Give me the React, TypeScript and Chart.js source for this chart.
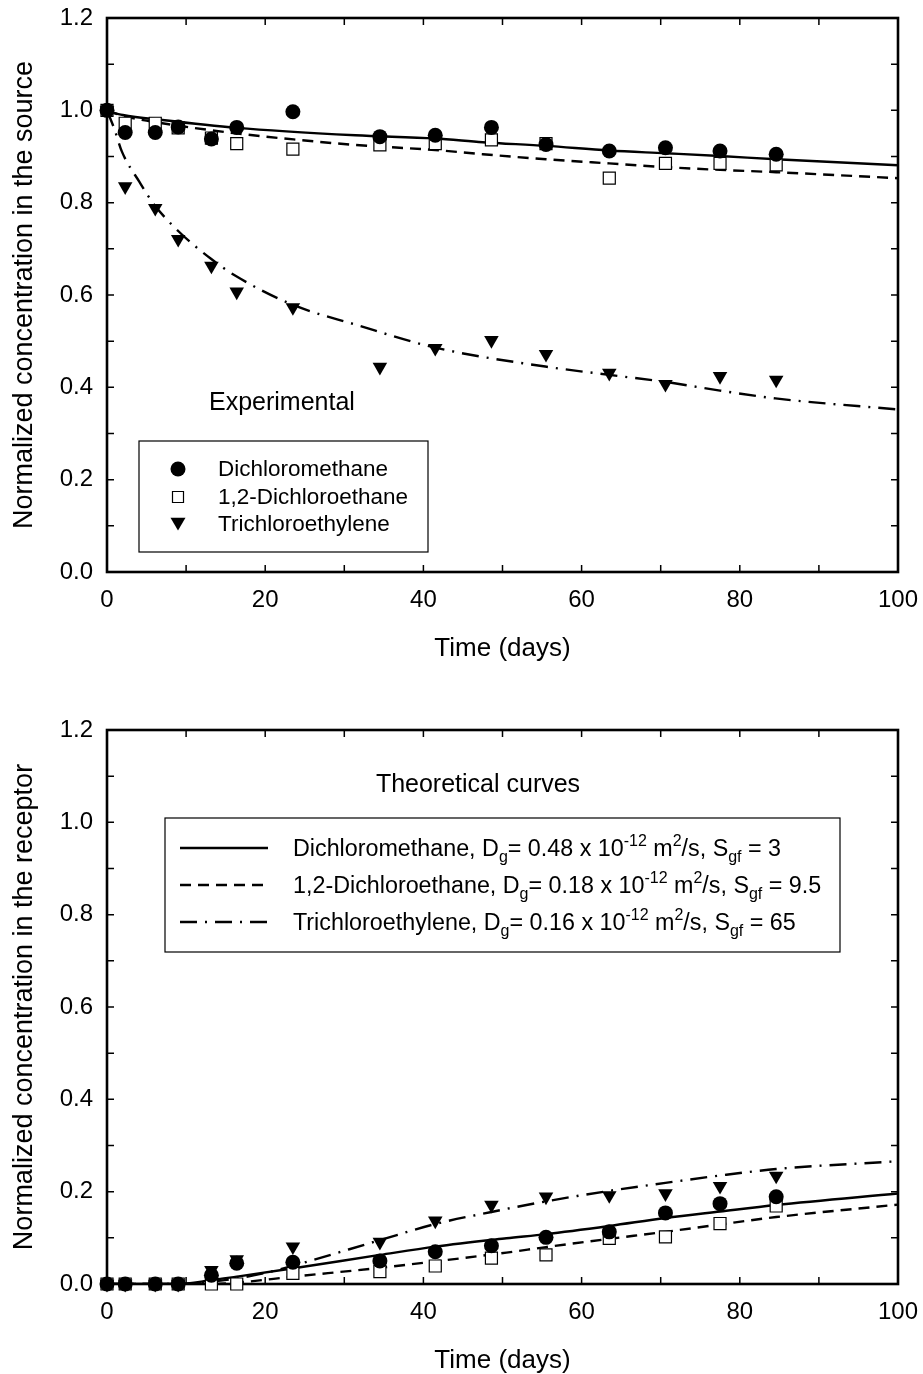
import React, { useEffect, useRef } from "react";
import { Chart, registerables } from "chart.js";

Chart.register(...registerables);

const FONT = "'Liberation Sans', Arial, Helvetica, sans-serif";

// ---- axis ticks ----
const xTickValues = [0, 20, 40, 60, 80, 100];
const xMinorTickValues = [10, 30, 50, 70, 90];
const yTickValues = [0, 0.2, 0.4, 0.6, 0.8, 1.0, 1.2];
const yMinorTickValues = [0.1, 0.3, 0.5, 0.7, 0.9, 1.1];

// ---- names ----
const seriesNames = ["Dichloromethane", "1,2-Dichloroethane", "Trichloroethylene"];
const xTitle = "Time (days)";
const sourceYTitle = "Normalized concentration in the source";
const receptorYTitle = "Normalized concentration in the receptor";
const sourceNote = "Experimental";
const receptorNote = "Theoretical curves";

// ---- sampling days (experimental) ----
const sampleDays = [0, 2.3, 6.1, 9.0, 13.2, 16.4, 23.5, 34.5, 41.5, 48.6, 55.5, 63.5, 70.6, 77.5, 84.6];

// ---- source (top panel) experimental ----
const sourceDCM = [1.0, 0.952, 0.952, 0.964, 0.938, 0.963, 0.997, 0.943, 0.946, 0.963, 0.926, 0.912, 0.919, 0.912, 0.905];
const sourceDCE = [1.0, 0.972, 0.972, 0.962, 0.940, 0.928, 0.916, 0.925, 0.928, 0.936, 0.928, 0.853, 0.885, 0.885, 0.882];
const sourceTCE = [1.0, 0.835, 0.788, 0.721, 0.663, 0.607, 0.573, 0.444, 0.485, 0.502, 0.472, 0.431, 0.407, 0.424, 0.416];

// ---- source theoretical curves ----
const sourceFitDCMDays = [0, 2, 7, 16.4, 31.4, 41.5, 47.5, 55.5, 63.5, 70.6, 77.5, 84.6, 100];
const sourceFitDCM = [0.998, 0.99, 0.979, 0.962, 0.946, 0.939, 0.931, 0.923, 0.913, 0.907, 0.901, 0.894, 0.881];
const sourceFitDCEDays = [0, 2, 7, 16.4, 23.6, 31.4, 41.5, 47.5, 55.5, 63.5, 70.6, 77.5, 84.6, 100];
const sourceFitDCE = [1.0, 0.988, 0.972, 0.95, 0.937, 0.925, 0.914, 0.905, 0.894, 0.885, 0.877, 0.871, 0.866, 0.853];
const sourceFitTCEDays = [0, 0.9, 1.9, 4.1, 6.0, 9.1, 13.1, 16.4, 23.6, 31.4, 41.5, 55.4, 63.5, 70.5, 77.5, 84.5, 100];
const sourceFitTCE = [1.0, 0.961, 0.91, 0.845, 0.795, 0.737, 0.679, 0.64, 0.578, 0.536, 0.486, 0.445, 0.427, 0.412, 0.393, 0.376, 0.352];

// ---- receptor (bottom panel) experimental ----
const receptorDCM = [0, 0, 0, 0, 0.019, 0.045, 0.047, 0.05, 0.07, 0.083, 0.101, 0.113, 0.154, 0.174, 0.189];
const receptorDCE = [0, 0, 0, 0, 0.0, 0.0, 0.023, 0.027, 0.039, 0.056, 0.063, 0.099, 0.102, 0.131, 0.169];
const receptorTCE = [0, 0, 0, 0, 0.03, 0.053, 0.081, 0.091, 0.137, 0.171, 0.189, 0.192, 0.196, 0.212, 0.234];

// ---- receptor theoretical curves ----
const receptorFitDCMDays = [0, 9, 13.1, 16.4, 23.6, 34.5, 41.5, 50.5, 55.5, 63.6, 70.6, 77.5, 84.6, 100];
const receptorFitDCM = [0, 0, 0.008, 0.016, 0.034, 0.063, 0.081, 0.099, 0.108, 0.126, 0.143, 0.157, 0.171, 0.196];
const receptorFitDCEDays = [0, 13.1, 16.4, 23.6, 34.5, 41.5, 50.5, 55.5, 63.6, 70.6, 77.5, 84.6, 100];
const receptorFitDCE = [0, 0, 0.003, 0.016, 0.035, 0.049, 0.068, 0.08, 0.098, 0.113, 0.129, 0.145, 0.172];
const receptorFitTCEDays = [0, 9, 13.1, 16.4, 20, 23.6, 34.5, 41.5, 48.6, 55.5, 63.6, 70.6, 77.5, 84.6, 100];
const receptorFitTCE = [0, 0, 0.005, 0.012, 0.024, 0.04, 0.095, 0.13, 0.156, 0.179, 0.202, 0.219, 0.235, 0.249, 0.266];

// ---- bottom legend rich text: [text, kind] ----
type Seg = [string, "n" | "sub" | "sup"];
const receptorLegendRows: Seg[][] = [
  [["Dichloromethane, D", "n"], ["g", "sub"], ["= 0.48 x 10", "n"], ["-12", "sup"], [" m", "n"], ["2", "sup"], ["/s, S", "n"], ["gf", "sub"], [" = 3", "n"]],
  [["1,2-Dichloroethane, D", "n"], ["g", "sub"], ["= 0.18 x 10", "n"], ["-12", "sup"], [" m", "n"], ["2", "sup"], ["/s, S", "n"], ["gf", "sub"], [" = 9.5", "n"]],
  [["Trichloroethylene, D", "n"], ["g", "sub"], ["= 0.16 x 10", "n"], ["-12", "sup"], [" m", "n"], ["2", "sup"], ["/s, S", "n"], ["gf", "sub"], [" = 65", "n"]],
];

// ---- styles ----
const lineDashes: number[][] = [[], [11, 7], [17, 8, 2, 8]];
const markerKinds = ["circle", "rect", "triangle"] as const;

const W = 923;
const H = 712;

const pts = (xs: number[], ys: number[]) => xs.map((x, i) => ({ x, y: ys[i] }));

function drawMarker(ctx: CanvasRenderingContext2D, kind: string, x: number, y: number, r: number) {
  ctx.save();
  ctx.beginPath();
  if (kind === "circle") {
    ctx.arc(x, y, r, 0, Math.PI * 2);
    ctx.fillStyle = "#000";
    ctx.fill();
  } else if (kind === "rect") {
    ctx.rect(x - r, y - r, 2 * r, 2 * r);
    ctx.fillStyle = "#fff";
    ctx.fill();
    ctx.lineWidth = 1.2;
    ctx.strokeStyle = "#000";
    ctx.stroke();
  } else {
    ctx.moveTo(x - r, y - r * 0.85);
    ctx.lineTo(x + r, y - r * 0.85);
    ctx.lineTo(x, y + r * 0.85);
    ctx.closePath();
    ctx.fillStyle = "#000";
    ctx.fill();
  }
  ctx.restore();
}

const frameTicksPlugin = {
  id: "frameTicks",
  beforeDatasetsDraw(chart: any) {
    const { ctx, chartArea: a, scales } = chart;
    const xs = scales.x;
    const ys = scales.y;
    const L = 7;
    ctx.save();
    ctx.strokeStyle = "#000";
    ctx.lineWidth = 1.5;
    ctx.beginPath();
    for (const v of [...xTickValues, ...xMinorTickValues]) {
      const px = xs.getPixelForValue(v);
      ctx.moveTo(px, a.bottom);
      ctx.lineTo(px, a.bottom - L);
      ctx.moveTo(px, a.top);
      ctx.lineTo(px, a.top + L);
    }
    for (const v of [...yTickValues, ...yMinorTickValues]) {
      const py = ys.getPixelForValue(v);
      ctx.moveTo(a.left, py);
      ctx.lineTo(a.left + L, py);
      ctx.moveTo(a.right, py);
      ctx.lineTo(a.right - L, py);
    }
    ctx.stroke();
    ctx.lineWidth = 2.6;
    ctx.strokeRect(a.left, a.top, a.right - a.left, a.bottom - a.top);
    ctx.restore();
  },
};

const sourceAnnotPlugin = {
  id: "sourceAnnot",
  afterDraw(chart: any) {
    const ctx: CanvasRenderingContext2D = chart.ctx;
    ctx.save();
    ctx.fillStyle = "#000";
    ctx.textBaseline = "middle";
    ctx.textAlign = "left";
    ctx.font = `25px ${FONT}`;
    ctx.fillText(sourceNote, 209, 403);
    // legend box
    ctx.lineWidth = 1.2;
    ctx.strokeStyle = "#000";
    ctx.strokeRect(139, 441, 289, 111);
    const rows = [469, 497, 524];
    const sizes = [7.5, 5.5, 7.5];
    ctx.font = `22.5px ${FONT}`;
    seriesNames.forEach((name, i) => {
      drawMarker(ctx, markerKinds[i], 178, rows[i], sizes[i]);
      ctx.fillStyle = "#000";
      ctx.fillText(name, 218, rows[i] + 1);
    });
    ctx.restore();
  },
};

const receptorAnnotPlugin = {
  id: "receptorAnnot",
  afterDraw(chart: any) {
    const ctx: CanvasRenderingContext2D = chart.ctx;
    ctx.save();
    ctx.fillStyle = "#000";
    ctx.textAlign = "center";
    ctx.textBaseline = "middle";
    ctx.font = `25px ${FONT}`;
    ctx.fillText(receptorNote, 478, 73);
    ctx.lineWidth = 1.2;
    ctx.strokeStyle = "#000";
    ctx.strokeRect(165, 106, 675, 134);
    const rows = [136, 173, 210];
    ctx.textAlign = "left";
    ctx.textBaseline = "alphabetic";
    receptorLegendRows.forEach((segs, i) => {
      const y = rows[i];
      ctx.save();
      ctx.lineWidth = 2.4;
      ctx.setLineDash(lineDashes[i]);
      ctx.beginPath();
      ctx.moveTo(180, y);
      ctx.lineTo(268, y);
      ctx.stroke();
      ctx.restore();
      let x = 293;
      const base = y + 8;
      for (const [t, k] of segs) {
        if (k === "n") {
          ctx.font = `23.3px ${FONT}`;
          ctx.fillText(t, x, base);
        } else if (k === "sub") {
          ctx.font = `16px ${FONT}`;
          ctx.fillText(t, x, base + 6);
        } else {
          ctx.font = `16px ${FONT}`;
          ctx.fillText(t, x, base - 10);
        }
        x += ctx.measureText(t).width;
      }
    });
    ctx.restore();
  },
};

function markerDataset(label: string, data: { x: number; y: number }[], kind: string) {
  const base: any = {
    label,
    data,
    showLine: false,
    clip: false,
    borderColor: "#000",
    pointBorderColor: "#000",
  };
  if (kind === "circle") {
    return { ...base, pointStyle: "circle", pointRadius: 7.5, pointBackgroundColor: "#000", pointBorderWidth: 0 };
  }
  if (kind === "rect") {
    return { ...base, pointStyle: "rect", pointRadius: 8.5, pointBackgroundColor: "#fff", pointBorderWidth: 1.2 };
  }
  return { ...base, pointStyle: "triangle", rotation: 180, pointRotation: 180, pointRadius: 8.4, pointBackgroundColor: "#000", pointBorderWidth: 0 };
}

function curveDataset(label: string, data: { x: number; y: number }[], dash: number[]) {
  return {
    label,
    data,
    showLine: true,
    pointRadius: 0,
    borderColor: "#000",
    borderWidth: 2.4,
    borderDash: dash,
    cubicInterpolationMode: "monotone",
    fill: false,
  };
}

function buildConfig(yTitle: string, exp: number[][], fits: { x: number; y: number }[][], annot: any): any {
  return {
    type: "scatter",
    data: {
      datasets: [
        markerDataset(seriesNames[0], pts(sampleDays, exp[0]), "circle"),
        markerDataset(seriesNames[1], pts(sampleDays, exp[1]), "rect"),
        markerDataset(seriesNames[2], pts(sampleDays, exp[2]), "triangle"),
        curveDataset(seriesNames[0] + " fit", fits[0], lineDashes[0]),
        curveDataset(seriesNames[1] + " fit", fits[1], lineDashes[1]),
        curveDataset(seriesNames[2] + " fit", fits[2], lineDashes[2]),
      ],
    },
    options: {
      responsive: false,
      animation: false,
      devicePixelRatio: 1,
      layout: { padding: { left: 9, top: 18, right: 25, bottom: 48 } },
      plugins: { legend: { display: false }, tooltip: { enabled: false } },
      scales: {
        x: {
          type: "linear",
          min: 0,
          max: 100,
          grid: { display: false, drawTicks: false },
          border: { display: false },
          ticks: {
            stepSize: 20,
            autoSkip: false,
            maxRotation: 0,
            padding: 14,
            color: "#000",
            font: { size: 24, family: FONT },
            callback: (v: any) => String(v),
          },
          title: { display: true, text: xTitle, color: "#000", padding: 0, font: { size: 26, family: FONT, lineHeight: 1.2 } },
          afterFit: (s: any) => {
            s.height = H - 48 - 572;
            s.paddingLeft = 0;
            s.paddingRight = 0;
            s.paddingTop = 0;
            s.paddingBottom = 0;
          },
        },
        y: {
          type: "linear",
          min: 0,
          max: 1.2,
          grid: { display: false, drawTicks: false },
          border: { display: false },
          ticks: {
            stepSize: 0.2,
            padding: 14,
            color: "#000",
            font: { size: 24, family: FONT },
            callback: (v: any) => Number(v).toFixed(1),
          },
          title: { display: true, text: yTitle, color: "#000", padding: 0, font: { size: 27, family: FONT, lineHeight: 1.15 } },
          afterFit: (s: any) => {
            s.width = 107 - 9;
            s.paddingLeft = 0;
            s.paddingRight = 0;
            s.paddingTop = 0;
            s.paddingBottom = 0;
          },
        },
      },
    },
    plugins: [frameTicksPlugin, annot],
  };
}

function ChartCanvas({ make, top }: { make: () => any; top: number }) {
  const ref = useRef<HTMLCanvasElement>(null);
  useEffect(() => {
    const chart = new Chart(ref.current as HTMLCanvasElement, make());
    return () => chart.destroy();
  }, []);
  return (
    <canvas
      ref={ref}
      width={W}
      height={H}
      style={{ position: "absolute", left: 0, top, width: W, height: H, display: "block" }}
    />
  );
}

export default function App() {
  const makeTop = () =>
    buildConfig(
      sourceYTitle,
      [sourceDCM, sourceDCE, sourceTCE],
      [pts(sourceFitDCMDays, sourceFitDCM), pts(sourceFitDCEDays, sourceFitDCE), pts(sourceFitTCEDays, sourceFitTCE)],
      sourceAnnotPlugin
    );
  const makeBottom = () =>
    buildConfig(
      receptorYTitle,
      [receptorDCM, receptorDCE, receptorTCE],
      [pts(receptorFitDCMDays, receptorFitDCM), pts(receptorFitDCEDays, receptorFitDCE), pts(receptorFitTCEDays, receptorFitTCE)],
      receptorAnnotPlugin
    );
  return (
    <div
      style={{
        position: "fixed",
        left: 0,
        top: 0,
        width: 923,
        height: 1374,
        overflow: "hidden",
        background: "#fff",
      }}
    >
      <ChartCanvas make={makeTop} top={0} />
      <ChartCanvas make={makeBottom} top={712} />
    </div>
  );
}
